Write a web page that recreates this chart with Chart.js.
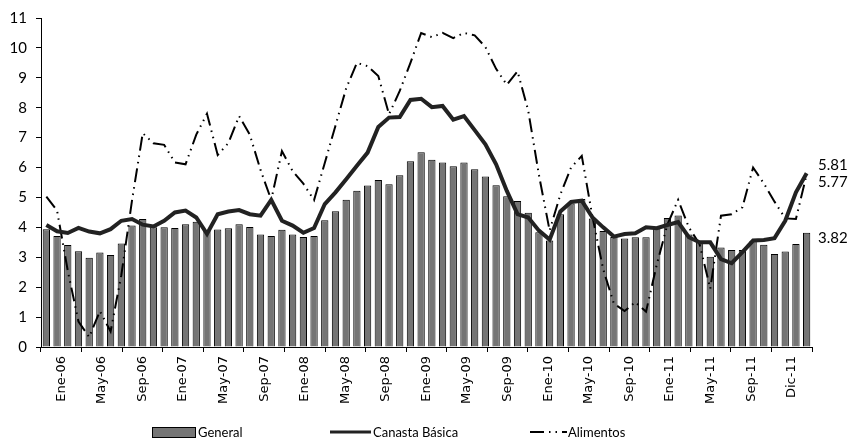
<!DOCTYPE html>
<html lang="es">
<head>
    <meta charset="UTF-8">
    <title>Inflación General, Canasta Básica y Alimentos</title>
    <script src="https://cdn.jsdelivr.net/npm/chart.js"></script>
    <style>
        body { margin: 0; background: #fff; }
        #wrap { position: relative; width: 854px; height: 442px; }
        #legend { position: absolute; left: 0; top: 424px; width: 854px; height: 16px;
                  font-family: Lato, sans-serif; font-size: 13px; color: #000; }
        #legend span, #legend svg { position: absolute; }
    </style>
</head>
<body>
<div id="wrap">
    <canvas id="chart" width="854" height="442"></canvas>
    <div id="legend">
        <svg style="left:152px;top:3px" width="44" height="12"><rect x="0.5" y="0.5" width="43" height="10" fill="#757575" stroke="#000"/></svg>
        <span style="left:198px;top:0">General</span>
        <svg style="left:330px;top:3px" width="42" height="10"><line x1="0" y1="5" x2="41" y2="5" stroke="#222" stroke-width="3"/></svg>
        <span style="left:373px;top:0">Canasta Básica</span>
        <svg style="left:530px;top:3px" width="38" height="10"><line x1="0" y1="5" x2="37" y2="5" stroke="#000" stroke-width="2" stroke-dasharray="14,5,1.5,5,1.5,5"/></svg>
        <span style="left:568px;top:0">Alimentos</span>
    </div>
</div>
<script>
    const monthNames = ['Ene', 'Feb', 'Mar', 'Abr', 'May', 'Jun', 'Jul', 'Ago', 'Sep', 'Oct', 'Nov', 'Dic'];
    const years = ['06', '07', '08', '09', '10', '11'];
    const categories = years.flatMap(y => monthNames.map(m => `${m}-${y}`));

    const tickLabels = ['Ene-06', 'May-06', 'Sep-06', 'Ene-07', 'May-07', 'Sep-07', 'Ene-08', 'May-08', 'Sep-08',
        'Ene-09', 'May-09', 'Sep-09', 'Ene-10', 'May-10', 'Sep-10', 'Ene-11', 'May-11', 'Sep-11', 'Dic-11'];

    const general = [
        3.94, 3.71, 3.41, 3.20, 2.98, 3.16, 3.08, 3.46, 4.06, 4.28, 4.00, 4.00,
        3.98, 4.10, 4.19, 3.90, 3.93, 3.97, 4.10, 4.01, 3.76, 3.71, 3.92, 3.76,
        3.68, 3.71, 4.24, 4.54, 4.92, 5.22, 5.40, 5.58, 5.44, 5.74, 6.21, 6.51,
        6.26, 6.17, 6.04, 6.17, 5.94, 5.70, 5.41, 5.04, 4.88, 4.49, 3.84, 3.56,
        4.44, 4.80, 4.95, 4.30, 3.88, 3.68, 3.63, 3.67, 3.67, 4.00, 4.31, 4.40,
        3.76, 3.52, 3.02, 3.33, 3.24, 3.24, 3.55, 3.42, 3.11, 3.19, 3.44, 3.82
    ];
    const canastaBasica = [
        4.08, 3.87, 3.81, 3.98, 3.86, 3.80, 3.94, 4.22, 4.28, 4.09, 4.03, 4.22,
        4.50, 4.56, 4.33, 3.78, 4.44, 4.53, 4.58, 4.44, 4.39, 4.92, 4.22, 4.06,
        3.82, 3.98, 4.78, 5.17, 5.61, 6.06, 6.50, 7.36, 7.67, 7.69, 8.26, 8.30,
        8.02, 8.06, 7.60, 7.72, 7.25, 6.78, 6.11, 5.22, 4.44, 4.33, 3.89, 3.59,
        4.53, 4.85, 4.89, 4.33, 4.00, 3.69, 3.78, 3.80, 4.00, 3.97, 4.08, 4.18,
        3.67, 3.50, 3.50, 2.94, 2.80, 3.17, 3.56, 3.58, 3.64, 4.22, 5.17, 5.81
    ];
    const alimentos = [
        5.03, 4.56, 2.55, 0.85, 0.33, 1.20, 0.52, 2.40, 4.90, 7.15, 6.81, 6.76,
        6.17, 6.11, 7.10, 7.80, 6.42, 6.82, 7.72, 7.10, 5.92, 4.92, 6.55, 5.88,
        5.46, 4.91, 6.15, 7.40, 8.65, 9.50, 9.39, 9.06, 7.78, 8.56, 9.50, 10.50,
        10.36, 10.50, 10.33, 10.50, 10.42, 10.03, 9.30, 8.77, 9.22, 7.90, 5.75, 3.89,
        5.10, 6.00, 6.39, 4.35, 2.60, 1.45, 1.20, 1.50, 1.18, 2.75, 4.10, 4.92,
        4.00, 3.44, 1.95, 4.39, 4.44, 4.67, 6.00, 5.47, 4.86, 4.30, 4.28, 5.77
    ];

    // etiquetas del último valor a la derecha de cada serie
    const endLabels = [
        { dataset: 1, dy: -8 },
        { dataset: 2, dy: 8 },
        { dataset: 0, dy: 5 }
    ];

    const endLabelPlugin = {
        id: 'endLabels',
        afterDatasetsDraw(chart) {
            const ctx = chart.ctx;
            ctx.save();
            ctx.font = '15px Lato, sans-serif';
            ctx.fillStyle = '#000';
            ctx.textAlign = 'left';
            ctx.textBaseline = 'middle';
            endLabels.forEach(l => {
                const meta = chart.getDatasetMeta(l.dataset);
                const data = chart.data.datasets[l.dataset].data;
                const el = meta.data[data.length - 1];
                ctx.fillText(data[data.length - 1].toFixed(2), chart.chartArea.right + 6, el.y + l.dy);
            });
            ctx.restore();
        }
    };

    new Chart(document.getElementById('chart'), {
        type: 'bar',
        data: {
            labels: categories,
            datasets: [
                {
                    label: 'General',
                    data: general,
                    backgroundColor: '#757575',
                    borderColor: '#000',
                    borderWidth: 1,
                    categoryPercentage: 1,
                    barPercentage: 0.68,
                    order: 2
                },
                {
                    type: 'line',
                    label: 'Canasta Básica',
                    data: canastaBasica,
                    borderColor: '#222',
                    borderWidth: 4,
                    pointRadius: 0,
                    tension: 0,
                    order: 0
                },
                {
                    type: 'line',
                    label: 'Alimentos',
                    data: alimentos,
                    borderColor: '#000',
                    borderWidth: 2,
                    borderDash: [14, 5, 1.5, 5, 1.5, 5],
                    pointRadius: 0,
                    tension: 0,
                    order: 1
                }
            ]
        },
        options: {
            responsive: false,
            animation: false,
            layout: { padding: { top: 16, right: 42, left: 0, bottom: 0 } },
            plugins: { legend: { display: false }, tooltip: { enabled: false } },
            scales: {
                x: { display: false },
                x2: {
                    type: 'linear',
                    position: 'bottom',
                    min: 0,
                    max: 72,
                    afterFit: s => { s.height = 95; },
                    border: { color: '#000', width: 1 },
                    grid: { drawOnChartArea: false, drawTicks: true, tickLength: 5, color: '#000' },
                    ticks: {
                        stepSize: 4,
                        autoSkip: false,
                        maxRotation: 90,
                        minRotation: 90,
                        padding: 4,
                        color: '#000',
                        font: { family: 'DejaVu Sans', size: 13 },
                        callback: v => tickLabels[v / 4]
                    }
                },
                y: {
                    min: 0,
                    max: 11,
                    afterFit: s => { s.width = 41; },
                    border: { color: '#000', width: 1 },
                    grid: { drawOnChartArea: false, drawTicks: true, tickLength: 5, color: '#000' },
                    ticks: {
                        stepSize: 1,
                        padding: 9,
                        color: '#000',
                        font: { family: 'Lato', size: 15 }
                    }
                }
            }
        },
        plugins: [endLabelPlugin]
    });
</script>
</body>
</html>
